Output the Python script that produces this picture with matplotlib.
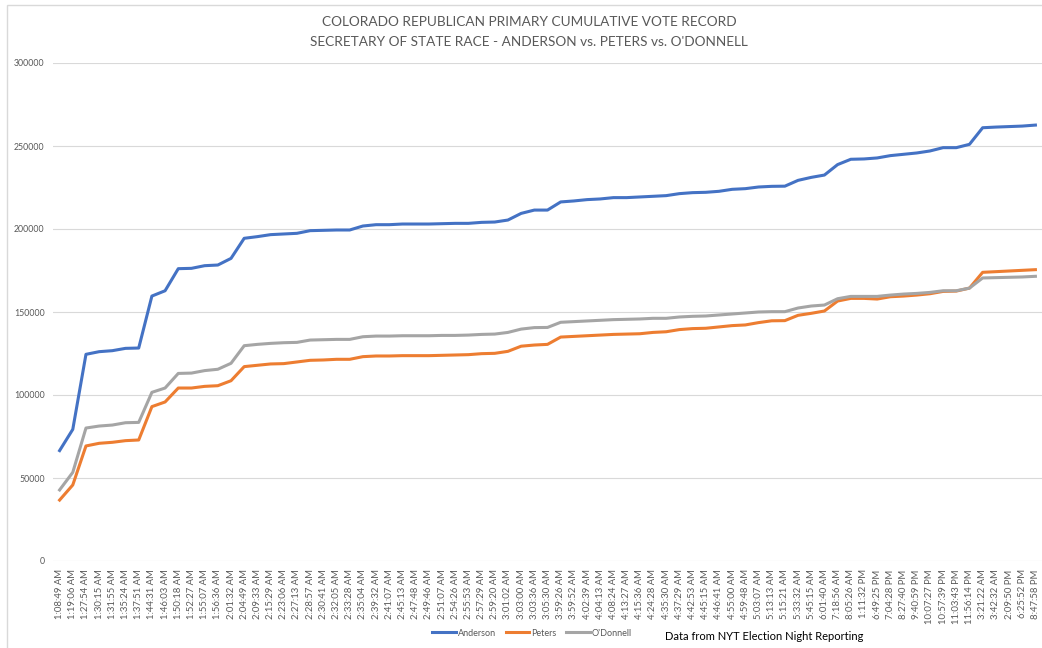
import matplotlib
matplotlib.use("Agg")
import matplotlib.pyplot as plt
from matplotlib.patches import Rectangle

plt.rcParams["font.family"] = ["Lato", "DejaVu Sans"]

# Report times (category axis)
times = [
    "1:08:49 AM", "1:19:06 AM", "1:27:54 AM", "1:30:15 AM", "1:31:55 AM", "1:35:24 AM",
    "1:37:51 AM", "1:44:31 AM", "1:46:03 AM", "1:50:18 AM", "1:52:27 AM", "1:55:07 AM",
    "1:56:36 AM", "2:01:32 AM", "2:04:49 AM", "2:09:33 AM", "2:15:29 AM", "2:23:06 AM",
    "2:27:13 AM", "2:28:57 AM", "2:30:41 AM", "2:32:05 AM", "2:33:28 AM", "2:35:04 AM",
    "2:39:32 AM", "2:41:07 AM", "2:45:13 AM", "2:47:48 AM", "2:49:46 AM", "2:51:07 AM",
    "2:54:26 AM", "2:55:53 AM", "2:57:29 AM", "2:59:20 AM", "3:01:02 AM", "3:03:00 AM",
    "3:03:36 AM", "3:05:30 AM", "3:59:26 AM", "3:59:52 AM", "4:02:39 AM", "4:04:13 AM",
    "4:08:24 AM", "4:13:27 AM", "4:15:36 AM", "4:24:28 AM", "4:35:30 AM", "4:37:29 AM",
    "4:42:53 AM", "4:45:15 AM", "4:46:41 AM", "4:55:00 AM", "4:59:48 AM", "5:03:07 AM",
    "5:13:13 AM", "5:15:21 AM", "5:33:32 AM", "5:45:15 AM", "6:01:40 AM", "7:18:56 AM",
    "8:05:26 AM", "1:11:32 PM", "6:49:25 PM", "7:04:28 PM", "8:27:40 PM", "9:40:59 PM",
    "10:07:27 PM", "10:57:39 PM", "11:03:43 PM", "11:56:14 PM", "3:21:22 AM", "3:42:32 AM",
    "2:09:50 PM", "6:25:52 PM", "8:47:58 PM",
]

anderson = [
    66500, 79300, 124500, 126100, 126700, 128100, 128300, 159600, 162800, 176100,
    176300, 177900, 178300, 182300, 194400, 195400, 196600, 197000, 197400, 199000,
    199200, 199400, 199400, 201800, 202600, 202600, 203000, 203000, 203000, 203200,
    203400, 203400, 204000, 204200, 205400, 209400, 211400, 211400, 216300, 216900,
    217700, 218100, 218900, 218900, 219300, 219700, 220100, 221300, 221900, 222100,
    222700, 223900, 224300, 225300, 225700, 225800, 229300, 231100, 232500, 238800,
    242000, 242200, 242800, 244200, 245000, 245800, 247000, 249000, 249000, 251000,
    261000, 261400, 261700, 262000, 262600,
]

peters = [
    36700, 45800, 69300, 70900, 71500, 72500, 72900, 93000, 95800, 104200,
    104200, 105200, 105600, 108600, 117100, 117900, 118700, 118900, 119900, 120900,
    121100, 121500, 121500, 123100, 123500, 123500, 123700, 123700, 123700, 123900,
    124100, 124300, 124900, 125100, 126300, 129400, 130100, 130500, 134900, 135300,
    135700, 136100, 136500, 136700, 136900, 137700, 138100, 139400, 140000, 140200,
    141000, 141800, 142200, 143600, 144700, 144800, 148000, 149200, 150600, 156600,
    158200, 158200, 157800, 159200, 159600, 160200, 161000, 162400, 162600, 164400,
    173900, 174300, 174700, 175100, 175500,
]

odonnell = [
    42800, 53400, 80100, 81300, 81900, 83300, 83500, 101600, 104200, 113000,
    113200, 114700, 115500, 119100, 129700, 130500, 131100, 131500, 131700, 133100,
    133300, 133500, 133500, 135100, 135500, 135500, 135700, 135700, 135700, 135900,
    135900, 136100, 136500, 136700, 137700, 139700, 140600, 140700, 143800, 144200,
    144600, 145000, 145400, 145600, 145800, 146200, 146200, 147000, 147400, 147600,
    148200, 148800, 149400, 150000, 150200, 150200, 152400, 153600, 154200, 158000,
    159400, 159400, 159400, 160200, 160800, 161200, 161800, 162800, 162800, 164400,
    170500, 170700, 170900, 171100, 171500,
]

yticks = [0, 50000, 100000, 150000, 200000, 250000, 300000]

W, H = 1042, 648
fig = plt.figure(figsize=(W / 100, H / 100), dpi=100)

# light chart frame
fig.patches.append(Rectangle((7 / W, -0.1), 1.2, 1 - 5 / H + 0.1, transform=fig.transFigure,
                             fill=False, edgecolor="#D9D9D9", linewidth=1))

ax = fig.add_axes([53 / W, 1 - 561 / H, 989 / W, (561 - 63) / H])
x = list(range(len(times)))
ax.plot(x, anderson, color="#4472C4", linewidth=2.2, label="Anderson", solid_joinstyle="round")
ax.plot(x, peters, color="#ED7D31", linewidth=2.2, label="Peters", solid_joinstyle="round")
ax.plot(x, odonnell, color="#A5A5A5", linewidth=2.2, label="O'Donnell", solid_joinstyle="round")

ax.set_xlim(-0.5, len(times) - 0.5)
ax.set_ylim(0, 300000)
ax.set_yticks(yticks)
ax.set_yticklabels([str(v) for v in yticks])
ax.set_xticks(x)
ax.set_xticklabels(times, rotation=90)
ax.grid(axis="y", color="#D9D9D9", linewidth=0.8)
ax.set_axisbelow(True)
for s in ax.spines.values():
    s.set_visible(False)
ax.tick_params(length=0, labelsize=6.3, colors="#595959")
ax.tick_params(axis="x", pad=6, labelsize=6.8)
ax.tick_params(axis="y", pad=6)

fig.text(529 / W, 1 - 22 / H, "COLORADO REPUBLICAN PRIMARY CUMULATIVE VOTE RECORD",
         ha="center", va="center", fontsize=9.8, color="#595959")
fig.text(529 / W, 1 - 42 / H, "SECRETARY OF STATE RACE - ANDERSON vs. PETERS vs. O'DONNELL",
         ha="center", va="center", fontsize=9.8, color="#595959")

fig.legend(loc="center", bbox_to_anchor=(532 / W, 1 - 633 / H), ncol=3, frameon=False,
           fontsize=6.5, handlelength=2.6, handletextpad=0.2, columnspacing=1.1,
           labelcolor="#595959")

fig.text(665 / W, 1 - 637 / H, "Data from NYT Election Night Reporting",
         ha="left", va="center", fontsize=8, color="black")

fig.savefig("out.png", dpi=100)
